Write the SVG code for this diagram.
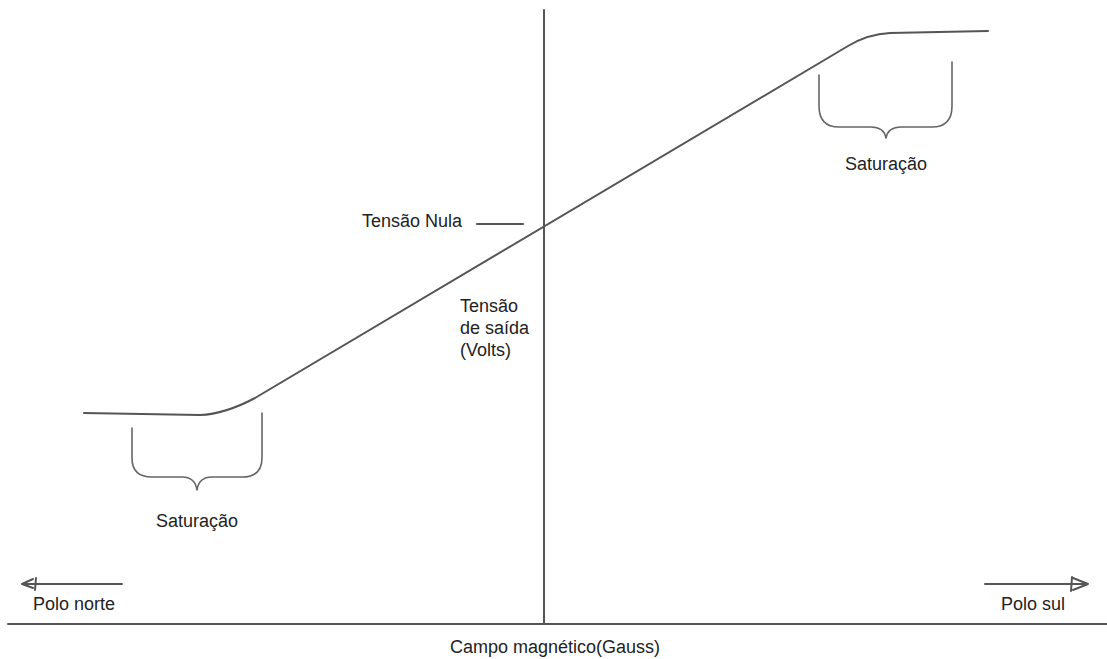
<svg xmlns="http://www.w3.org/2000/svg" width="1107" height="659" viewBox="0 0 1107 659">
<style>
.ln{fill:none;stroke:#555;stroke-width:2;stroke-linecap:round;stroke-linejoin:round}
.th{fill:none;stroke:#666;stroke-width:1.6;stroke-linecap:round;stroke-linejoin:round}
text{font-family:"Liberation Sans",Arial,sans-serif;font-size:18px;fill:#222}
</style>
<rect width="1107" height="659" fill="#fff"/>
<g id="axes">
<line class="ln" x1="8" y1="624" x2="1107" y2="624"/>
<line class="ln" x1="544" y1="10" x2="544" y2="624"/>
</g>
<g id="curve">
<path class="ln" d="M84,413 L200,415 Q225,414 255,398 L848,46 Q868,34 890,33 L988,31"/>
</g>
<g id="brace-left">
<path class="th" d="M132,428 L132,458 Q132,477 152,477 L182,477 Q195,477 197,490 Q199,477 212,477 L242,477 Q262,477 262,458 L262,413"/>
<text x="197" y="527" text-anchor="middle">Saturação</text>
</g>
<g id="brace-right">
<path class="th" d="M819,75 L819,106 Q819,127 839,127 L871,127 Q884,127 886,138 Q888,127 901,127 L932,127 Q952,127 952,106 L952,62"/>
<text x="886" y="170" text-anchor="middle">Saturação</text>
</g>
<g id="tensao-nula">
<text x="362" y="227">Tensão Nula</text>
<line class="ln" x1="477" y1="224" x2="523" y2="224"/>
</g>
<g id="tensao-saida">
<text x="460" y="312">Tensão</text>
<text x="460" y="334">de saída</text>
<text x="460" y="356">(Volts)</text>
</g>
<g id="polo-norte">
<line class="ln" x1="122" y1="584" x2="23" y2="584"/>
<polyline class="ln" points="33,579 22,584 33,588"/>
<line class="ln" x1="36" y1="578" x2="35" y2="590"/>
<text x="33" y="610">Polo norte</text>
</g>
<g id="polo-sul">
<line class="ln" x1="985" y1="584" x2="1087" y2="584"/>
<polyline class="ln" points="1073,578 1088,584 1073,590"/>
<line class="ln" x1="1072" y1="577" x2="1071" y2="591"/>
<text x="1001" y="610">Polo sul</text>
</g>
<g id="xlabel">
<text x="555" y="653" text-anchor="middle">Campo magnético(Gauss)</text>
</g>
</svg>
